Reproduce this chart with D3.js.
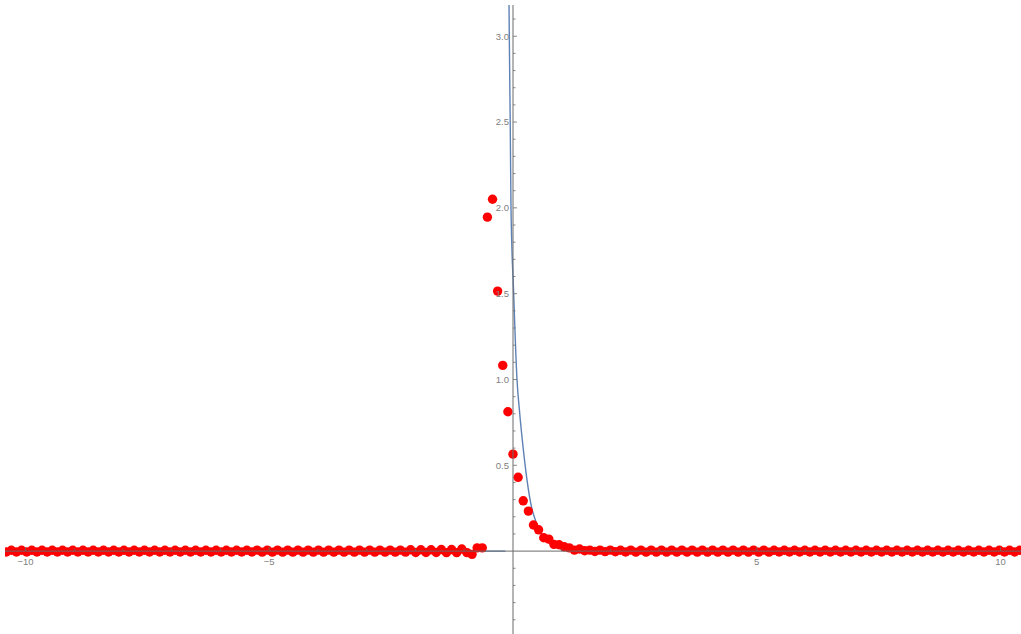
<!DOCTYPE html>
<html>
<head>
<meta charset="utf-8">
<script src="https://cdn.jsdelivr.net/npm/d3@7"></script>
<style>
  body { margin: 0; background: #fff; }
  svg { display: block; }
  .tick-label { font-family: "Liberation Sans", Arial, sans-serif; font-size: 9.5px; fill: #808080; }
</style>
</head>
<body>
<div id="chart"></div>
<script>
// sampled points (red dots)
var sampleX = [
  -10.5, -10.395, -10.29, -10.185, -10.08, -9.975, -9.87, -9.765, -9.66, -9.555,
  -9.45, -9.345, -9.24, -9.135, -9.03, -8.925, -8.82, -8.715, -8.61, -8.505,
  -8.4, -8.295, -8.19, -8.085, -7.98, -7.875, -7.77, -7.665, -7.56, -7.455,
  -7.35, -7.245, -7.14, -7.035, -6.93, -6.825, -6.72, -6.615, -6.51, -6.405,
  -6.3, -6.195, -6.09, -5.985, -5.88, -5.775, -5.67, -5.565, -5.46, -5.355,
  -5.25, -5.145, -5.04, -4.935, -4.83, -4.725, -4.62, -4.515, -4.41, -4.305,
  -4.2, -4.095, -3.99, -3.885, -3.78, -3.675, -3.57, -3.465, -3.36, -3.255,
  -3.15, -3.045, -2.94, -2.835, -2.73, -2.625, -2.52, -2.415, -2.31, -2.205,
  -2.1, -1.995, -1.89, -1.785, -1.68, -1.575, -1.47, -1.365, -1.26, -1.155,
  -1.05, -0.945, -0.84, -0.735, -0.63, -0.525, -0.42, -0.315, -0.21, -0.105,
  0,
  0.105, 0.21, 0.315, 0.42, 0.525, 0.63, 0.735, 0.84, 0.945, 1.05,
  1.155, 1.26, 1.365, 1.47, 1.575, 1.68, 1.785, 1.89, 1.995, 2.1,
  2.205, 2.31, 2.415, 2.52, 2.625, 2.73, 2.835, 2.94, 3.045, 3.15,
  3.255, 3.36, 3.465, 3.57, 3.675, 3.78, 3.885, 3.99, 4.095, 4.2,
  4.305, 4.41, 4.515, 4.62, 4.725, 4.83, 4.935, 5.04, 5.145, 5.25,
  5.355, 5.46, 5.565, 5.67, 5.775, 5.88, 5.985, 6.09, 6.195, 6.3,
  6.405, 6.51, 6.615, 6.72, 6.825, 6.93, 7.035, 7.14, 7.245, 7.35,
  7.455, 7.56, 7.665, 7.77, 7.875, 7.98, 8.085, 8.19, 8.295, 8.4,
  8.505, 8.61, 8.715, 8.82, 8.925, 9.03, 9.135, 9.24, 9.345, 9.45,
  9.555, 9.66, 9.765, 9.87, 9.975, 10.08, 10.185, 10.29, 10.395, 10.5
];
var sampleY = [
  0.005, -0.005, 0.005, -0.005, 0.005, -0.005, 0.005, -0.005, 0.005, -0.005,
  0.005, -0.005, 0.005, -0.005, 0.005, -0.005, 0.005, -0.005, 0.005, -0.005,
  0.005, -0.005, 0.005, -0.005, 0.005, -0.005, 0.005, -0.005, 0.005, -0.005,
  0.005, -0.005, 0.005, -0.005, 0.005, -0.005, 0.005, -0.005, 0.005, -0.005,
  0.005, -0.005, 0.005, -0.005, 0.005, -0.005, 0.005, -0.005, 0.005, -0.005,
  0.006, -0.006, 0.006, -0.006, 0.006, -0.006, 0.006, -0.006, 0.006, -0.006,
  0.006, -0.006, 0.006, -0.006, 0.006, -0.006, 0.006, -0.006, 0.006, -0.006,
  0.006, -0.006, 0.006, -0.006, 0.006, -0.006, 0.006, -0.006, 0.006, -0.006,
  0.008, -0.008, 0.008, -0.008, 0.008, -0.008, 0.009, -0.009, 0.009, -0.009,
  0.012, -0.009, -0.019, 0.019, 0.019, 1.946, 2.05, 1.515, 1.082, 0.812,
  0.565,
  0.43, 0.293, 0.233, 0.152, 0.124, 0.078, 0.070, 0.039, 0.037, 0.025,
  0.019, 0.006, 0.012, 0.002, 0.006, -0.002, 0.006, -0.003, 0.006, -0.004,
  0.005, -0.005, 0.006, -0.006, 0.006, -0.006, 0.006, -0.006, 0.006, -0.006,
  0.006, -0.006, 0.006, -0.006, 0.006, -0.006, 0.006, -0.006, 0.006, -0.006,
  0.006, -0.006, 0.006, -0.006, 0.006, -0.006, 0.006, -0.006, 0.006, -0.006,
  0.005, -0.005, 0.005, -0.005, 0.005, -0.005, 0.005, -0.005, 0.005, -0.005,
  0.005, -0.005, 0.005, -0.005, 0.005, -0.005, 0.005, -0.005, 0.005, -0.005,
  0.005, -0.005, 0.005, -0.005, 0.005, -0.005, 0.005, -0.005, 0.005, -0.005,
  0.005, -0.005, 0.005, -0.005, 0.005, -0.005, 0.005, -0.005, 0.005, -0.005,
  0.005, -0.005, 0.005, -0.005, 0.005, -0.005, 0.005, -0.005, 0.005, -0.005
];

// blue curve (two pieces, broken at the pole)
var curveLeftX = [-10.5, -0.156];
var curveLeftY = [0, 0];
var curveRightX = [-0.09, -0.082, -0.057, -0.041, 0.014, 0.082, 0.137, 0.205, 0.287, 0.377, 0.48, 0.6, 0.75, 0.9, 1.1, 1.4, 1.8, 2.5, 4, 10.5];
var curveRightY = [3.5, 3.18, 2.5, 2.0, 1.5, 1.0, 0.805, 0.61, 0.415, 0.26, 0.164, 0.092, 0.045, 0.022, 0.008, 0.002, 0.0005, 0, 0, 0];

var xTickLabels = [-10, -5, 5, 10];
var yTickLabels = [0.5, 1.0, 1.5, 2.0, 2.5, 3.0];

var W = 1021, H = 634;
var svg = d3.select("#chart").append("svg").attr("width", W).attr("height", H)
svg.append("rect").attr("width", W).attr("height", H).attr("fill", "#fff")

var x = d3.scaleLinear().domain([-10.42, 10.42]).range([5, 1021]);
var y = d3.scaleLinear().domain([-0.483, 3.182]).range([634, 5]);

svg.append("clipPath").attr("id", "plot-clip")
  .append("rect").attr("x", 5).attr("y", 5).attr("width", W - 5).attr("height", H - 5)
var g_plot = svg.append("g").attr("clip-path", "url(#plot-clip)")

var line = d3.line()
  .x(function(d) { return x(d[0]); })
  .y(function(d) { return y(d[1]); })
  .curve(d3.curveMonotoneX)

g_plot.append("path")
  .datum(d3.zip(curveLeftX, curveLeftY))
  .attr("d", line).attr("fill", "none").attr("stroke", "#5E81B5").attr("stroke-width", 1.4)
g_plot.append("path")
  .datum(d3.zip(curveRightX, curveRightY))
  .attr("d", line).attr("fill", "none").attr("stroke", "#5E81B5").attr("stroke-width", 1.4)

g_plot.selectAll("circle.dot")
  .data(d3.zip(sampleX, sampleY))
  .enter().append("circle")
  .attr("class", "dot")
  .attr("cx", function(d) { return x(d[0]); })
  .attr("cy", function(d) { return y(d[1]); })
  .attr("r", 4.7)
  .attr("fill", "#FF0000")

// axes (drawn over the marks)
var axisColor = "#6b6b6b";
var g_axes = svg.append("g")
var x0 = x(0), y0 = y(0);

g_axes.append("line").attr("x1", 5).attr("x2", W).attr("y1", y0).attr("y2", y0)
  .attr("stroke", axisColor).attr("stroke-width", 1)
g_axes.append("line").attr("x1", x0).attr("x2", x0).attr("y1", 5).attr("y2", H)
  .attr("stroke", axisColor).attr("stroke-width", 1)

// x ticks point up, major every 5
d3.range(-10, 11).filter(function(v) { return v !== 0; }).forEach(function(v) {
  var len = (v % 5 === 0) ? 4 : 2.5;
  g_axes.append("line").attr("x1", x(v)).attr("x2", x(v)).attr("y1", y0).attr("y2", y0 - len)
    .attr("stroke", axisColor).attr("stroke-width", 0.8)
})
// y ticks point right, major every 0.5
d3.range(-4, 32).filter(function(k) { return k !== 0; }).forEach(function(k) {
  var v = k / 10;
  var len = (k % 5 === 0) ? 4 : 2.5;
  g_axes.append("line").attr("x1", x0).attr("x2", x0 + len).attr("y1", y(v)).attr("y2", y(v))
    .attr("stroke", axisColor).attr("stroke-width", 0.8)
})

g_axes.selectAll("text.xl").data(xTickLabels).enter().append("text")
  .attr("class", "tick-label xl")
  .attr("x", function(d) { return x(d); })
  .attr("y", y0 + 14)
  .attr("text-anchor", "middle")
  .text(function(d) { return d < 0 ? "\u2212" + Math.abs(d) : d; })

g_axes.selectAll("text.yl").data(yTickLabels).enter().append("text")
  .attr("class", "tick-label yl")
  .attr("x", x0 - 4)
  .attr("y", function(d) { return y(d); })
  .attr("dy", "0.35em")
  .attr("text-anchor", "end")
  .text(function(d) { return d.toFixed(1); })
</script>
</body>
</html>
